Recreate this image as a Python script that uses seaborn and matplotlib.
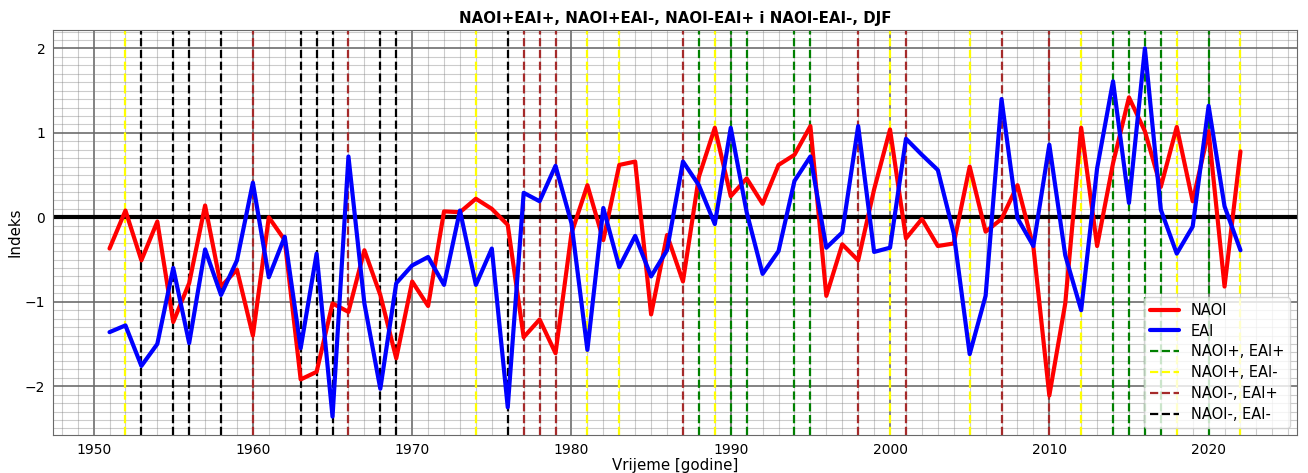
import matplotlib
matplotlib.use("Agg")
import matplotlib.pyplot as plt
import pandas as pd
import seaborn as sns
from matplotlib.ticker import MultipleLocator

years = list(range(1951, 2023))

naoi = [-0.37, 0.08, -0.51, -0.05, -1.24, -0.78, 0.14, -0.82, -0.62, -1.40,
        0.0, -0.27, -1.92, -1.83, -1.02, -1.12, -0.39, -0.92, -1.67, -0.76,
        -1.05, 0.07, 0.06, 0.22, 0.10, -0.09, -1.42, -1.21, -1.61, -0.19,
        0.38, -0.27, 0.62, 0.66, -1.15, -0.21, -0.76, 0.48, 1.06, 0.25,
        0.46, 0.16, 0.62, 0.74, 1.08, -0.93, -0.32, -0.51, 0.33, 1.04,
        -0.25, -0.02, -0.34, -0.31, 0.60, -0.17, -0.02, 0.38, -0.35, -2.11,
        -1.02, 1.06, -0.34, 0.64, 1.42, 1.02, 0.36, 1.07, 0.19, 1.02,
        -0.82, 0.78]

eai = [-1.36, -1.28, -1.76, -1.50, -0.60, -1.49, -0.38, -0.92, -0.51, 0.41,
       -0.71, -0.23, -1.55, -0.43, -2.36, 0.72, -1.02, -2.03, -0.78, -0.57,
       -0.47, -0.80, 0.08, -0.80, -0.37, -2.25, 0.29, 0.19, 0.61, -0.07,
       -1.57, 0.11, -0.59, -0.22, -0.70, -0.39, 0.66, 0.38, -0.08, 1.06,
       0.06, -0.67, -0.40, 0.43, 0.72, -0.36, -0.18, 1.08, -0.41, -0.36,
       0.93, 0.74, 0.56, -0.19, -1.62, -0.93, 1.40, -0.01, -0.34, 0.86,
       -0.45, -1.10, 0.58, 1.61, 0.17, 2.00, 0.09, -0.43, -0.11, 1.32,
       0.13, -0.39]

# godine po kategorijama
plus_plus = [1988, 1990, 1991, 1994, 1995, 2014, 2015, 2016, 2017, 2020]
plus_minus = [1952, 1974, 1981, 1983, 1989, 2000, 2005, 2012, 2018, 2022]
minus_plus = [1960, 1966, 1977, 1978, 1979, 1987, 1998, 2001, 2007, 2010]
minus_minus = [1953, 1955, 1956, 1958, 1963, 1964, 1965, 1968, 1969, 1976]

df = pd.DataFrame({"Godina": years, "NAOI": naoi, "EAI": eai})

sns.set_style("white")
plt.rcParams["font.family"] = ["DejaVu Sans"]
plt.rcParams["text.color"] = "black"
plt.rcParams["axes.labelcolor"] = "black"
plt.rcParams["xtick.color"] = "black"
plt.rcParams["ytick.color"] = "black"

fig, ax = plt.subplots(figsize=(13.08, 4.73), dpi=100)
fig.subplots_adjust(left=0.0405, right=0.9916, top=0.9366, bottom=0.0803)

sns.lineplot(data=df, x="Godina", y="NAOI", color="red", linewidth=3, label="NAOI", ax=ax)
sns.lineplot(data=df, x="Godina", y="EAI", color="blue", linewidth=3, label="EAI", ax=ax)

kategorije = [
    (plus_plus, "green", "NAOI+, EAI+"),
    (plus_minus, "yellow", "NAOI+, EAI-"),
    (minus_plus, "brown", "NAOI-, EAI+"),
    (minus_minus, "black", "NAOI-, EAI-"),
]
for godine, boja, ime in kategorije:
    for i, g in enumerate(godine):
        ax.axvline(g, color=boja, linestyle="--", linewidth=1.6,
                   label=ime if i == 0 else None, zorder=1.5)

ax.axhline(0, color="black", linewidth=3, zorder=1.6)

ax.xaxis.set_minor_locator(MultipleLocator(1))
ax.yaxis.set_minor_locator(MultipleLocator(0.1))
ax.grid(which="major", color="dimgray", linewidth=1.3, alpha=0.9)
ax.grid(which="minor", color="gray", linewidth=0.8, alpha=0.4)
ax.tick_params(which="major", length=2.5, color="dimgray", labelsize=10, pad=3)
ax.tick_params(which="minor", length=0)
for s in ax.spines.values():
    s.set_color("dimgray")

ax.set_title("NAOI+EAI+, NAOI+EAI-, NAOI-EAI+ i NAOI-EAI-, DJF",
             fontweight="bold", fontsize=10.8, pad=5)
ax.set_xlabel("Vrijeme [godine]", fontsize=10.8, labelpad=1)
ax.set_ylabel("Indeks", fontsize=10.8, labelpad=2)
ax.legend(loc="lower right", fontsize=10.5, labelspacing=0.4)

fig.savefig("out.png", dpi=100)
